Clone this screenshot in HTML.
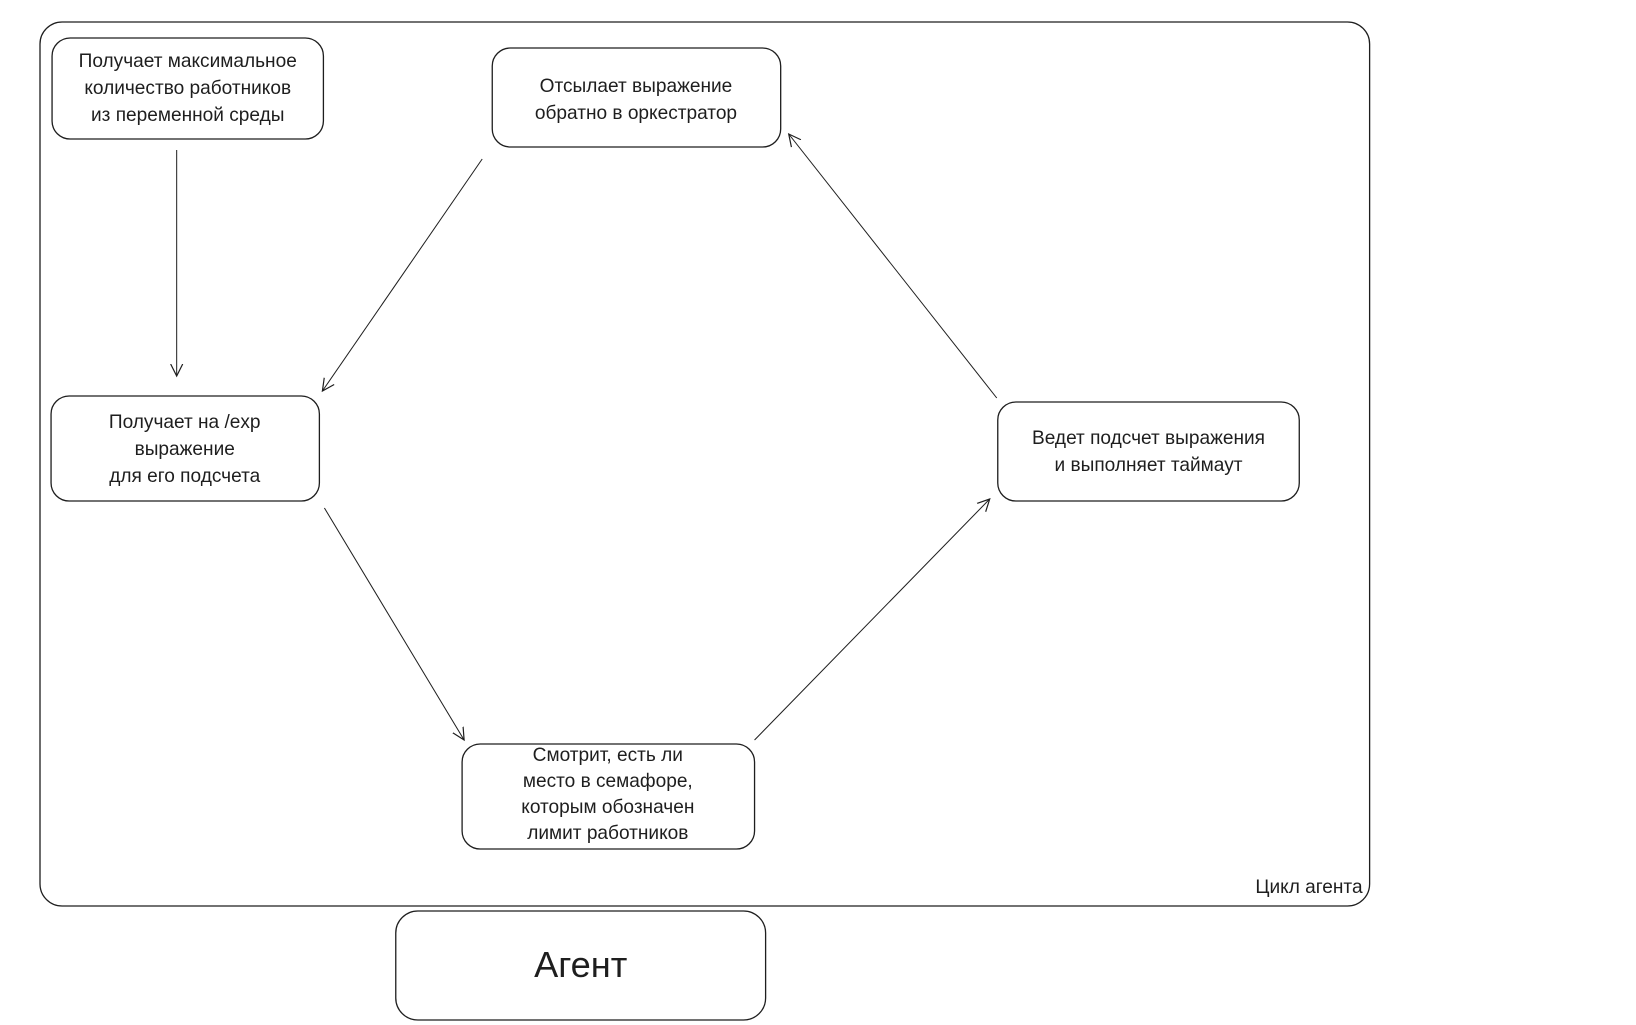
<!DOCTYPE html>
<html><head><meta charset="utf-8"><style>
html,body{margin:0;padding:0;background:#fff;}
svg{display:block;}
text{font-family:"Liberation Sans","DejaVu Sans",sans-serif;fill:#1e1e1e;}
</style></head><body>
<svg width="1636" height="1025" viewBox="0 0 1636 1025" xmlns="http://www.w3.org/2000/svg">
<defs><marker id="a" markerWidth="14" markerHeight="14" refX="12" refY="7" orient="auto" markerUnits="userSpaceOnUse"><path d="M0,1 L12,7 L0,13" fill="none" stroke="#1e1e1e" stroke-width="1.2"/></marker></defs>
<g transform="translate(40,0) scale(1.005,1) translate(-40,0)">
<g fill="none" stroke="#1e1e1e" stroke-width="1.3">
<rect x="40" y="22" width="1323" height="884" rx="22"/>
<rect x="52" y="38" width="270" height="101" rx="18"/>
<rect x="490" y="48" width="287" height="99" rx="18"/>
<rect x="51" y="396" width="267" height="105" rx="18"/>
<rect x="993" y="402" width="300" height="99" rx="18"/>
<rect x="460" y="744" width="291" height="105" rx="18"/>
<rect x="394" y="911" width="368" height="109" rx="22"/>
<g stroke-width="1" marker-end="url(#a)">
<line x1="176" y1="150" x2="176" y2="376"/>
<line x1="480" y1="159" x2="321" y2="391"/>
<line x1="323" y1="508" x2="462" y2="740"/>
<line x1="751" y1="740" x2="985" y2="499"/>
<line x1="992" y1="398" x2="785" y2="134"/>
</g>
</g>
<g font-size="19" text-anchor="middle">
<text x="187" y="67">Получает максимальное</text>
<text x="187" y="94">количество работников</text>
<text x="187" y="121">из переменной среды</text>
<text x="633" y="92">Отсылает выражение</text>
<text x="633" y="119">обратно в оркестратор</text>
<text x="184" y="428">Получает на /exp</text>
<text x="184" y="455">выражение</text>
<text x="184" y="482">для его подсчета</text>
<text x="1143" y="444">Ведет подсчет выражения</text>
<text x="1143" y="471">и выполняет таймаут</text>
<text x="605" y="761">Смотрит, есть ли</text>
<text x="605" y="787">место в семафоре,</text>
<text x="605" y="813">которым обозначен</text>
<text x="605" y="839">лимит работников</text>
</g>
<text x="1356" y="893" font-size="19" text-anchor="end">Цикл агента</text>
<text x="578" y="977" font-size="36" text-anchor="middle">Агент</text>
</g>
</svg>
</body></html>
